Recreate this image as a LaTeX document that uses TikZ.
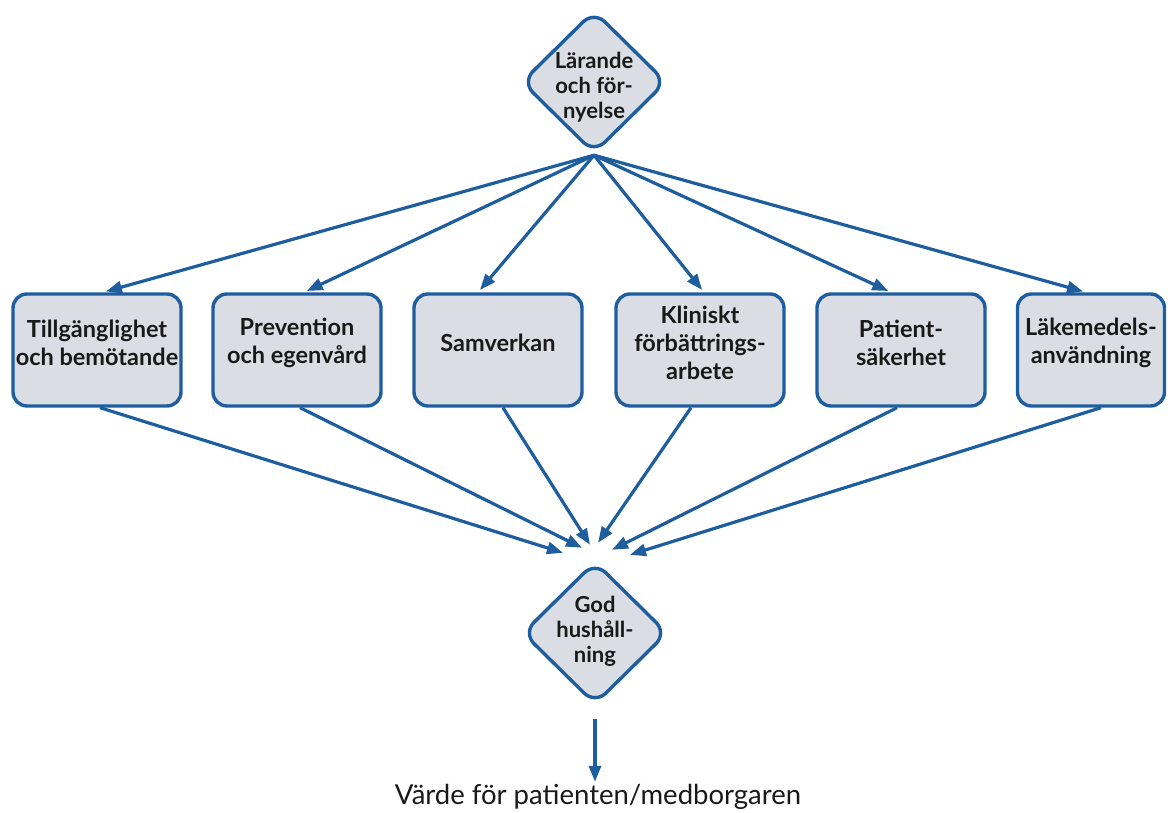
\documentclass[tikz,border=0pt]{standalone}
\usepackage{fontspec}
\setmainfont{Lato}
\usetikzlibrary{arrows.meta,shapes.geometric}

\definecolor{lineblue}{HTML}{1F5E9E}
\definecolor{boxgray}{HTML}{DADEE4}

\tikzset{
	pil/.style={lineblue,line width=3.2pt,-{Triangle[length=16pt,width=12pt]}},
	ruta/.style={draw=lineblue,line width=3.4pt,fill=boxgray,rounded corners=14pt,minimum height=112pt},
	romb/.style={diamond,draw=lineblue,line width=3.4pt,fill=boxgray,rounded corners=15pt,
		minimum width=145pt,minimum height=143pt,inner sep=0pt},
	rubrik/.style={font=\fontsize{23.5}{28}\selectfont\bfseries,align=center,text=black!90},
	rombtext/.style={font=\fontsize{22}{25}\selectfont\bfseries,align=center,text=black!90}
}

\begin{document}
\begin{tikzpicture}[x=1pt,y=1pt]

\useasboundingbox (0,0) rectangle (1168,813);

\def\rutaY{463}

% diamonds
\node[romb,label={[rombtext,yshift=-5pt]center:L\"arande\\och f\"or-\\nyelse}] (larande) at (594,731) {};
\node[romb,label={[rombtext,yshift=2pt]center:God\\hush\aa ll-\\ning}] (god) at (595,180) {};

% the six areas
\foreach \n/\x/\w/\t in {1/97/168/{Tillg\"anglighet\\och bem\"otande},
		2/297/168/{Prevention\\och egenv\aa rd},
		3/498/168/{Samverkan},
		4/700/168/{Kliniskt\\f\"orb\"attrings-\\arbete},
		5/901/168/{Patient-\\s\"akerhet},
		6/1091/147/{L\"akemedels-\\anv\"andning}}{
	\node[ruta,minimum width=\w pt,label={[rubrik,yshift=7pt]center:\t}] (b\n) at (\x,\rutaY) {};
}

% ends near the bottom diamond
\foreach \n/\dx/\dy in {1/-32/7, 2/-13/12, 3/-5/15, 4/3/17, 5/17/10, 6/35/5}{
	\coordinate (e\n) at ([xshift=\dx pt,yshift=\dy pt]god.north);
}

\foreach \n/\dx in {1/6, 2/7, 3/-20, 4/4, 5/-10, 6/-5}{
	\draw[pil,shorten >=3pt] (larande.south) -- ([xshift=\dx pt]b\n.north);
}
\foreach \n/\dx in {1/3, 2/3, 3/5, 4/-9, 5/-4, 6/10}{
	\draw[pil] ([xshift=\dx pt]b\n.south) -- (e\n);
}

\node[font=\fontsize{27.5}{32}\selectfont,text=black!90] (varde) at (598,16) {V\"arde f\"or patienten/medborgaren};
\draw[pil] ([yshift=-13pt]god.south) -- ([yshift=-1pt]god.south |- varde.north);

\end{tikzpicture}
\end{document}
